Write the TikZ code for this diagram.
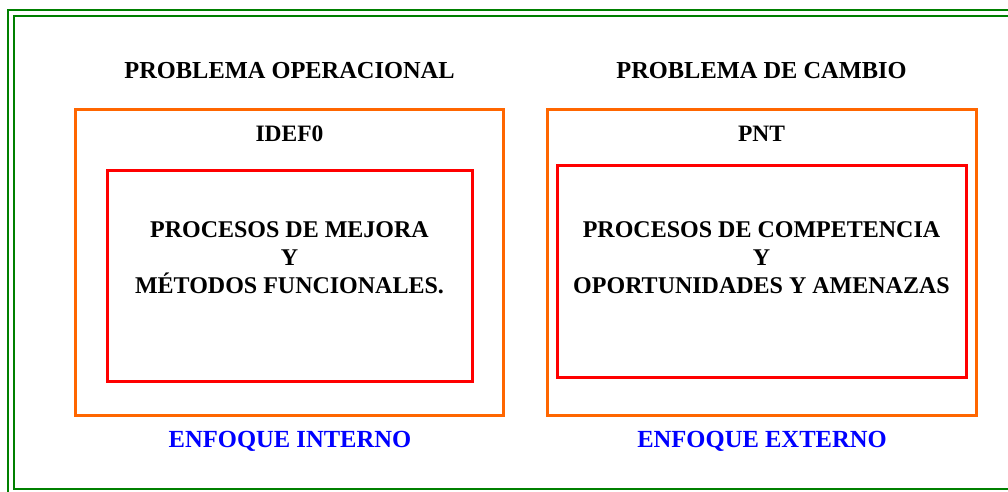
\documentclass[tikz,border=0pt]{standalone}
\usepackage{fontspec}
\setmainfont{Liberation Serif}
\usetikzlibrary{positioning}
\definecolor{verde}{RGB}{0,128,0}
\definecolor{naranja}{RGB}{255,102,0}
\definecolor{rojo}{RGB}{255,0,0}
\definecolor{azul}{RGB}{0,0,255}
\tikzset{
  marco/.style={draw=verde,line width=2.6pt},
  caja/.style={draw=naranja,line width=3pt,inner sep=0pt,minimum height=306pt},
  nucleo/.style={draw=rojo,line width=3pt,inner sep=0pt},
  etiqueta/.style={font=\bfseries\fontsize{23.5}{28}\selectfont,anchor=base},
  titulo/.style={etiqueta,font=\bfseries\fontsize{24.4}{28}\selectfont},
  enfoque/.style={etiqueta,font=\bfseries\fontsize{24.6}{28}\selectfont,text=azul},
  texto/.style={font=\bfseries\fontsize{24}{28}\selectfont,align=center}
}
\begin{document}
\begin{tikzpicture}[x=1pt,y=-1pt]
                \clip (0,0) rectangle (1008,491);
                %% marco doble
                \draw[marco] (8,10) rectangle (1016,497);
                \draw[marco] (14,16) rectangle (1010,489);
                %% problema operacional
                \node[caja,minimum width=428pt] (idef) at (289.5,262) {};
                \node[nucleo,minimum width=365pt,minimum height=211pt] (mejora) at (289.5,275.5) {};
                \node[titulo] (operacional) at (289.5,78) {PROBLEMA OPERACIONAL};
                \node[etiqueta] (idefcero) at (289.5,141) {IDEF0};
                \node[texto] (procmejora) at (289.5,257.5) {PROCESOS DE MEJORA\\Y\\MÉTODOS FUNCIONALES.};
                \node[enfoque] (interno) at (290,447) {ENFOQUE INTERNO};
                %% problema de cambio
                \node[caja,minimum width=429pt] (pnt) at (761.5,262) {};
                \node[nucleo,minimum width=409pt,minimum height=212pt] (competencia) at (761.5,271) {};
                \node[titulo] (cambio) at (761.5,78) {PROBLEMA DE CAMBIO};
                \node[etiqueta] (pntlabel) at (761.5,141) {PNT};
                \node[texto] (proccomp) at (761.5,257.5) {PROCESOS DE COMPETENCIA\\Y\\OPORTUNIDADES Y AMENAZAS};
                \node[enfoque] (externo) at (762,447) {ENFOQUE EXTERNO};
            \end{tikzpicture}
\end{document}
